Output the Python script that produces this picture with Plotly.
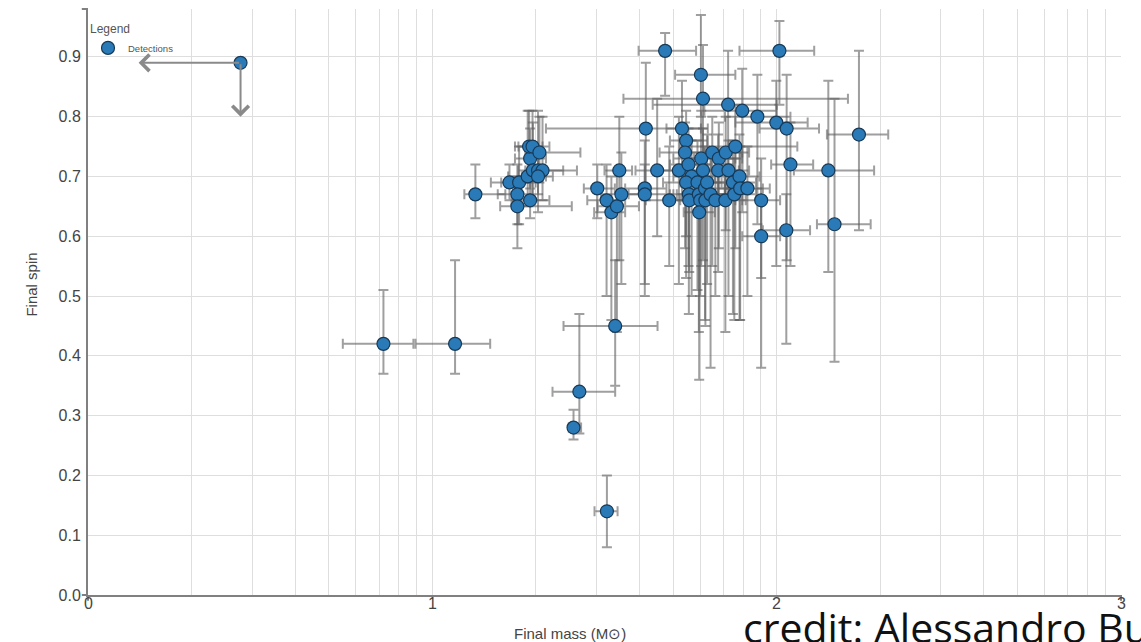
import math
import plotly.graph_objects as go

# Final mass is plotted as log10(M / M_sun); spin is dimensionless.
mass_log = [0.858, 1.066, 1.125, 1.224, 1.252, 1.247, 1.247, 1.277, 1.284, 1.284,
            1.281, 1.291, 1.311, 1.292, 1.307, 1.320, 1.307, 1.479, 1.506, 1.520,
            1.536, 1.549, 1.543, 1.531, 1.427, 1.410, 1.507, 1.617, 1.617, 1.620,
            1.653, 1.676, 1.688, 1.716, 1.725, 1.737, 1.734, 1.744, 1.753, 1.737,
            1.745, 1.746, 1.770, 1.774, 1.778, 1.775, 1.781, 1.786, 1.780, 1.786,
            1.792, 1.798, 1.793, 1.808, 1.813, 1.822, 1.832, 1.830, 1.851, 1.852,
            1.859, 1.860, 1.873, 1.877, 1.880, 1.892, 1.894, 1.900, 1.915, 1.944,
            1.955, 1.955, 1.999, 2.008, 2.029, 2.028, 2.040, 2.150, 2.168, 2.239]
spin = [0.42, 0.42, 0.67, 0.69, 0.69, 0.67, 0.65, 0.70, 0.66, 0.73,
        0.75, 0.75, 0.74, 0.71, 0.71, 0.71, 0.70, 0.68, 0.66, 0.64,
        0.65, 0.67, 0.71, 0.45, 0.34, 0.28, 0.14, 0.68, 0.67, 0.78,
        0.71, 0.91, 0.66, 0.71, 0.78, 0.76, 0.74, 0.72, 0.70, 0.69,
        0.67, 0.66, 0.69, 0.67, 0.66, 0.64, 0.73, 0.71, 0.87, 0.83,
        0.68, 0.69, 0.66, 0.67, 0.74, 0.66, 0.73, 0.71, 0.66, 0.74,
        0.82, 0.71, 0.69, 0.67, 0.75, 0.70, 0.68, 0.81, 0.68, 0.80,
        0.66, 0.60, 0.79, 0.91, 0.78, 0.61, 0.72, 0.71, 0.62, 0.77]
mass_lo = [0.740, 0.951, 1.093, 1.170, 1.200, 1.190, 1.197, 1.220, 1.230, 1.240,
           1.240, 1.250, 1.270, 1.250, 1.270, 1.290, 1.260, 1.440, 1.450, 1.470,
           1.480, 1.490, 1.500, 1.381, 1.349, 1.396, 1.471, 1.560, 1.570, 1.330,
           1.590, 1.599, 1.620, 1.650, 1.680, 1.690, 1.660, 1.690, 1.700, 1.670,
           1.690, 1.680, 1.720, 1.710, 1.720, 1.730, 1.700, 1.730, 1.705, 1.555,
           1.740, 1.740, 1.740, 1.750, 1.740, 1.770, 1.760, 1.780, 1.790, 1.790,
           1.640, 1.800, 1.810, 1.820, 1.720, 1.830, 1.830, 1.790, 1.850, 1.850,
           1.900, 1.900, 1.880, 1.892, 1.950, 1.960, 1.984, 2.050, 2.117, 2.146]
mass_hi = [0.945, 1.168, 1.212, 1.290, 1.300, 1.290, 1.405, 1.330, 1.340, 1.330,
           1.320, 1.340, 1.430, 1.330, 1.380, 1.420, 1.350, 1.530, 1.560, 1.560,
           1.600, 1.610, 1.580, 1.654, 1.531, 1.432, 1.538, 1.680, 1.700, 1.780,
           1.720, 1.766, 1.760, 1.790, 1.800, 1.800, 1.830, 1.810, 1.820, 1.800,
           1.820, 1.810, 1.840, 1.850, 1.830, 1.820, 1.880, 1.840, 1.880, 2.207,
           1.860, 1.850, 1.860, 1.870, 1.900, 1.880, 1.900, 1.890, 1.910, 1.920,
           2.000, 1.920, 1.940, 1.940, 2.060, 1.950, 1.960, 2.000, 1.980, 2.040,
           2.010, 2.010, 2.090, 2.109, 2.123, 2.097, 2.106, 2.283, 2.273, 2.324]
spin_lo = [0.37, 0.37, 0.63, 0.66, 0.62, 0.62, 0.58, 0.65, 0.63, 0.68,
           0.70, 0.71, 0.69, 0.66, 0.67, 0.66, 0.64, 0.63, 0.50, 0.46,
           0.44, 0.52, 0.56, 0.35, 0.27, 0.26, 0.08, 0.50, 0.52, 0.66,
           0.60, 0.835, 0.55, 0.52, 0.66, 0.60, 0.58, 0.55, 0.50, 0.53,
           0.47, 0.54, 0.51, 0.44, 0.50, 0.36, 0.55, 0.56, 0.80, 0.72,
           0.46, 0.52, 0.45, 0.38, 0.55, 0.50, 0.58, 0.54, 0.44, 0.61,
           0.72, 0.50, 0.47, 0.46, 0.58, 0.46, 0.46, 0.64, 0.50, 0.62,
           0.53, 0.38, 0.55, 0.82, 0.56, 0.42, 0.55, 0.54, 0.39, 0.61]
spin_hi = [0.51, 0.56, 0.72, 0.72, 0.75, 0.72, 0.70, 0.81, 0.73, 0.78,
           0.81, 0.81, 0.80, 0.79, 0.81, 0.80, 0.75, 0.72, 0.72, 0.70,
           0.71, 0.74, 0.80, 0.56, 0.47, 0.31, 0.20, 0.76, 0.72, 0.89,
           0.83, 0.94, 0.75, 0.80, 0.86, 0.81, 0.79, 0.78, 0.76, 0.75,
           0.73, 0.72, 0.76, 0.73, 0.72, 0.70, 0.81, 0.78, 0.97, 0.92,
           0.75, 0.77, 0.72, 0.74, 0.80, 0.73, 0.79, 0.77, 0.72, 0.80,
           0.91, 0.76, 0.76, 0.73, 0.82, 0.77, 0.75, 0.88, 0.75, 0.87,
           0.73, 0.66, 0.86, 0.96, 0.87, 0.67, 0.79, 0.86, 0.83, 0.91]

# Event with only upper limits on mass and spin
limit_mass, limit_spin = 0.443, 0.89
limit_mass_max, limit_spin_max = 0.147, 0.80

x_ticks = [0, 1, 2, 3]
x_tick_labels = ["0", "1", "2", "3"]

MARKER_FILL = "#2a7ab8"
MARKER_EDGE = "#173a57"
BAR_COLOR = "rgba(95,95,95,0.6)"
GRID = "#dedede"
AXIS = "#808080"
TEXT = "#444444"
FONT = "Liberation Sans, Arial, sans-serif"

# logarithmic minor gridlines inside each decade (2..9 times 10^n)
minor_grid = [n + math.log10(k) for n in range(3) for k in range(2, 10)]

fig = go.Figure()

fig.add_trace(go.Scatter(
    x=mass_log, y=spin, mode="markers", name="Detections",
    marker=dict(size=13, color=MARKER_FILL, line=dict(color=MARKER_EDGE, width=1.2)),
    error_x=dict(type="data", symmetric=False,
                 array=[h - v for h, v in zip(mass_hi, mass_log)],
                 arrayminus=[v - l for v, l in zip(mass_log, mass_lo)],
                 color=BAR_COLOR, thickness=2, width=5),
    error_y=dict(type="data", symmetric=False,
                 array=[h - v for h, v in zip(spin_hi, spin)],
                 arrayminus=[v - l for v, l in zip(spin, spin_lo)],
                 color=BAR_COLOR, thickness=2, width=5),
    hoverinfo="skip",
))

# upper-limit arrows
for (hx, hy) in [(limit_mass_max, limit_spin), (limit_mass, limit_spin_max)]:
    fig.add_annotation(x=hx, y=hy, ax=limit_mass, ay=limit_spin,
                       xref="x", yref="y", axref="x", ayref="y",
                       showarrow=True, arrowhead=4, arrowsize=1.6, arrowwidth=2,
                       arrowcolor="#8a8a8a", text="")

fig.add_trace(go.Scatter(
    x=[limit_mass], y=[limit_spin], mode="markers", showlegend=False,
    marker=dict(size=13, color=MARKER_FILL, line=dict(color=MARKER_EDGE, width=1.2)),
    hoverinfo="skip",
))

fig.update_layout(
    width=1141, height=642,
    margin=dict(l=88, r=20, t=9, b=47),
    paper_bgcolor="white", plot_bgcolor="white",
    font=dict(family=FONT, color=TEXT, size=15),
    showlegend=True,
    legend=dict(x=0.0, y=0.985, xanchor="left", yanchor="top",
                bgcolor="rgba(0,0,0,0)", borderwidth=0,
                title=dict(text="Legend", font=dict(size=12, color="#555")),
                font=dict(size=9.5, color="#555"), itemwidth=30,
                tracegroupgap=0),
)

fig.update_xaxes(
    range=[0, 3], tickvals=x_ticks, showticklabels=False,
    showgrid=True, gridcolor=GRID, gridwidth=1,
    minor=dict(tickvals=minor_grid, showgrid=True, gridcolor=GRID, gridwidth=1, ticks=""),
    zeroline=False, showline=True, linecolor=AXIS, linewidth=2, ticks="",
)
fig.update_yaxes(
    range=[0, 0.98], dtick=0.1, tick0=0, tickformat=".1f",
    showgrid=True, gridcolor=GRID, gridwidth=1,
    zeroline=False, showline=True, linecolor=AXIS, linewidth=2,
    ticks="", tickfont=dict(size=16, color=TEXT), ticklabelstandoff=2,
)

# x tick labels sit tight under the axis line
for v, lab in zip(x_ticks, x_tick_labels):
    fig.add_annotation(x=v, y=-0.014, xref="x", yref="paper", text=lab,
                       xanchor="center", yanchor="middle", showarrow=False,
                       font=dict(size=16, color=TEXT))

# outer ticks at the ends of each axis line
end_ticks = [
    dict(x0=-0.006, x1=0, y0=1, y1=1),
    dict(x0=-0.006, x1=0, y0=0, y1=0),
    dict(x0=0, x1=0, y0=0, y1=-0.01),
    dict(x0=1, x1=1, y0=0, y1=-0.01),
]
for t in end_ticks:
    fig.add_shape(type="line", xref="paper", yref="paper",
                  line=dict(color=AXIS, width=2), **t)

# axis titles
fig.add_annotation(text="Final mass (M\u2299)", xref="paper", yref="paper",
                   x=0.467, y=-0.065, xanchor="center", yanchor="middle",
                   showarrow=False, font=dict(size=15, color=TEXT))
fig.add_annotation(text="Final spin", xref="paper", yref="paper",
                   x=-0.055, y=0.53, xanchor="center", yanchor="middle",
                   textangle=-90, showarrow=False, font=dict(size=15, color=TEXT))

# credit line
fig.add_annotation(text="credit: Alessandro Bu", xref="paper", yref="paper",
                   x=0.632, y=-0.106, xanchor="left", yanchor="bottom",
                   showarrow=False,
                   font=dict(family="Open Sans, sans-serif", size=41, color="#111"))

fig.write_html("out.html")
